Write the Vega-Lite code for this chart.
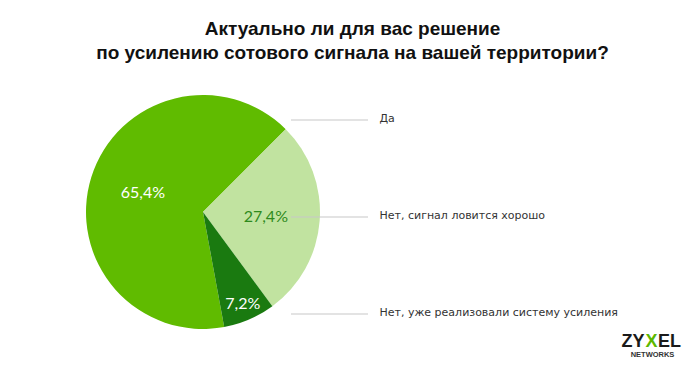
{
  "$schema": "https://vega.github.io/schema/vega-lite/v6.json",
  "padding": {"left": 86, "top": 20, "right": 8, "bottom": 10},
  "background": "white",
  "title": {
    "text": ["Актуально ли для вас решение", "по усилению сотового сигнала на вашей территории?"],
    "font": "Liberation Sans",
    "fontSize": 19,
    "fontWeight": "bold",
    "color": "#111111",
    "lineHeight": 24,
    "anchor": "middle",
    "offset": 32,
    "dx": -31
  },
  "datasets": {
    "answers": [
      {"answer": "Да", "pct": 65.4, "label": "65,4%", "ord": 3},
      {"answer": "Нет, сигнал ловится хорошо", "pct": 27.4, "label": "27,4%", "ord": 1},
      {"answer": "Нет, уже реализовали систему усиления", "pct": 7.2, "label": "7,2%", "ord": 2}
    ]
  },
  "spacing": 0,
  "bounds": "flush",
  "hconcat": [
    {
      "width": 176,
      "height": 234,
      "data": {"name": "answers"},
      "encoding": {
        "theta": {"field": "pct", "type": "quantitative", "stack": true, "scale": {"range": [0.7854, 7.0686]}},
        "order": {"field": "ord", "type": "quantitative"}
      },
      "layer": [
        {
          "mark": {"type": "arc", "stroke": null, "radius": 117},
          "encoding": {
            "color": {
              "field": "answer",
              "type": "nominal",
              "legend": null,
              "scale": {
                "domain": ["Да", "Нет, сигнал ловится хорошо", "Нет, уже реализовали систему усиления"],
                "range": ["#60bb00", "#c1e3a0", "#1a7a10"]
              }
            }
          }
        },
        {
          "mark": {"type": "text", "radius": 63, "font": "Lato", "fontSize": 16, "baseline": "middle", "align": "center"},
          "encoding": {
            "text": {"condition": {"test": "datum.ord != 2", "field": "label"}, "value": ""},
            "color": {"condition": {"test": "datum.ord == 1", "value": "#2e8a1c"}, "value": "#ffffff"}
          }
        },
        {
          "mark": {"type": "text", "radius": 100, "font": "Lato", "fontSize": 16, "baseline": "middle", "align": "center", "color": "#ffffff"},
          "encoding": {
            "text": {"condition": {"test": "datum.ord == 2", "field": "label"}, "value": ""}
          }
        }
      ]
    },
    {
      "width": 77,
      "height": 244,
      "data": {"name": "answers"},
      "layer": [
        {
          "mark": {"type": "rule", "color": "#c8c8c8", "strokeWidth": 1.2},
          "encoding": {
            "y": {
              "field": "answer",
              "type": "nominal",
              "axis": null,
              "scale": {"type": "point", "padding": 0.258, "domain": ["Да", "Нет, сигнал ловится хорошо", "Нет, уже реализовали систему усиления"]}
            }
          }
        },
        {
          "mark": {"type": "text", "align": "left", "baseline": "middle", "dx": 50, "dy": -1, "font": "DejaVu Sans", "fontSize": 11, "color": "#333333"},
          "encoding": {
            "y": {"field": "answer", "type": "nominal", "axis": null},
            "text": {"field": "answer"}
          }
        },
        {
          "data": {"values": [{"part": "ZY"}]},
          "mark": {"type": "text", "align": "right", "baseline": "middle", "dx": 315, "dy": 125, "font": "Liberation Sans", "fontWeight": "bold", "fontSize": 18, "color": "#1a1a1a"},
          "encoding": {"text": {"field": "part"}}
        },
        {
          "data": {"values": [{"part": "X"}]},
          "mark": {"type": "text", "align": "center", "baseline": "middle", "dx": 322, "dy": 125, "font": "Liberation Sans", "fontWeight": "bold", "fontSize": 18, "color": "#5cb800"},
          "encoding": {"text": {"field": "part"}}
        },
        {
          "data": {"values": [{"part": "EL"}]},
          "mark": {"type": "text", "align": "left", "baseline": "middle", "dx": 328.5, "dy": 125, "font": "Liberation Sans", "fontWeight": "bold", "fontSize": 18, "color": "#1a1a1a"},
          "encoding": {"text": {"field": "part"}}
        },
        {
          "data": {"values": [{"part": "NETWORKS"}]},
          "mark": {"type": "text", "align": "center", "baseline": "middle", "dx": 323, "dy": 138, "font": "Liberation Sans", "fontWeight": "bold", "fontSize": 7.5, "color": "#333333"},
          "encoding": {"text": {"field": "part"}}
        }
      ]
    }
  ],
  "config": {"view": {"stroke": null}}
}
